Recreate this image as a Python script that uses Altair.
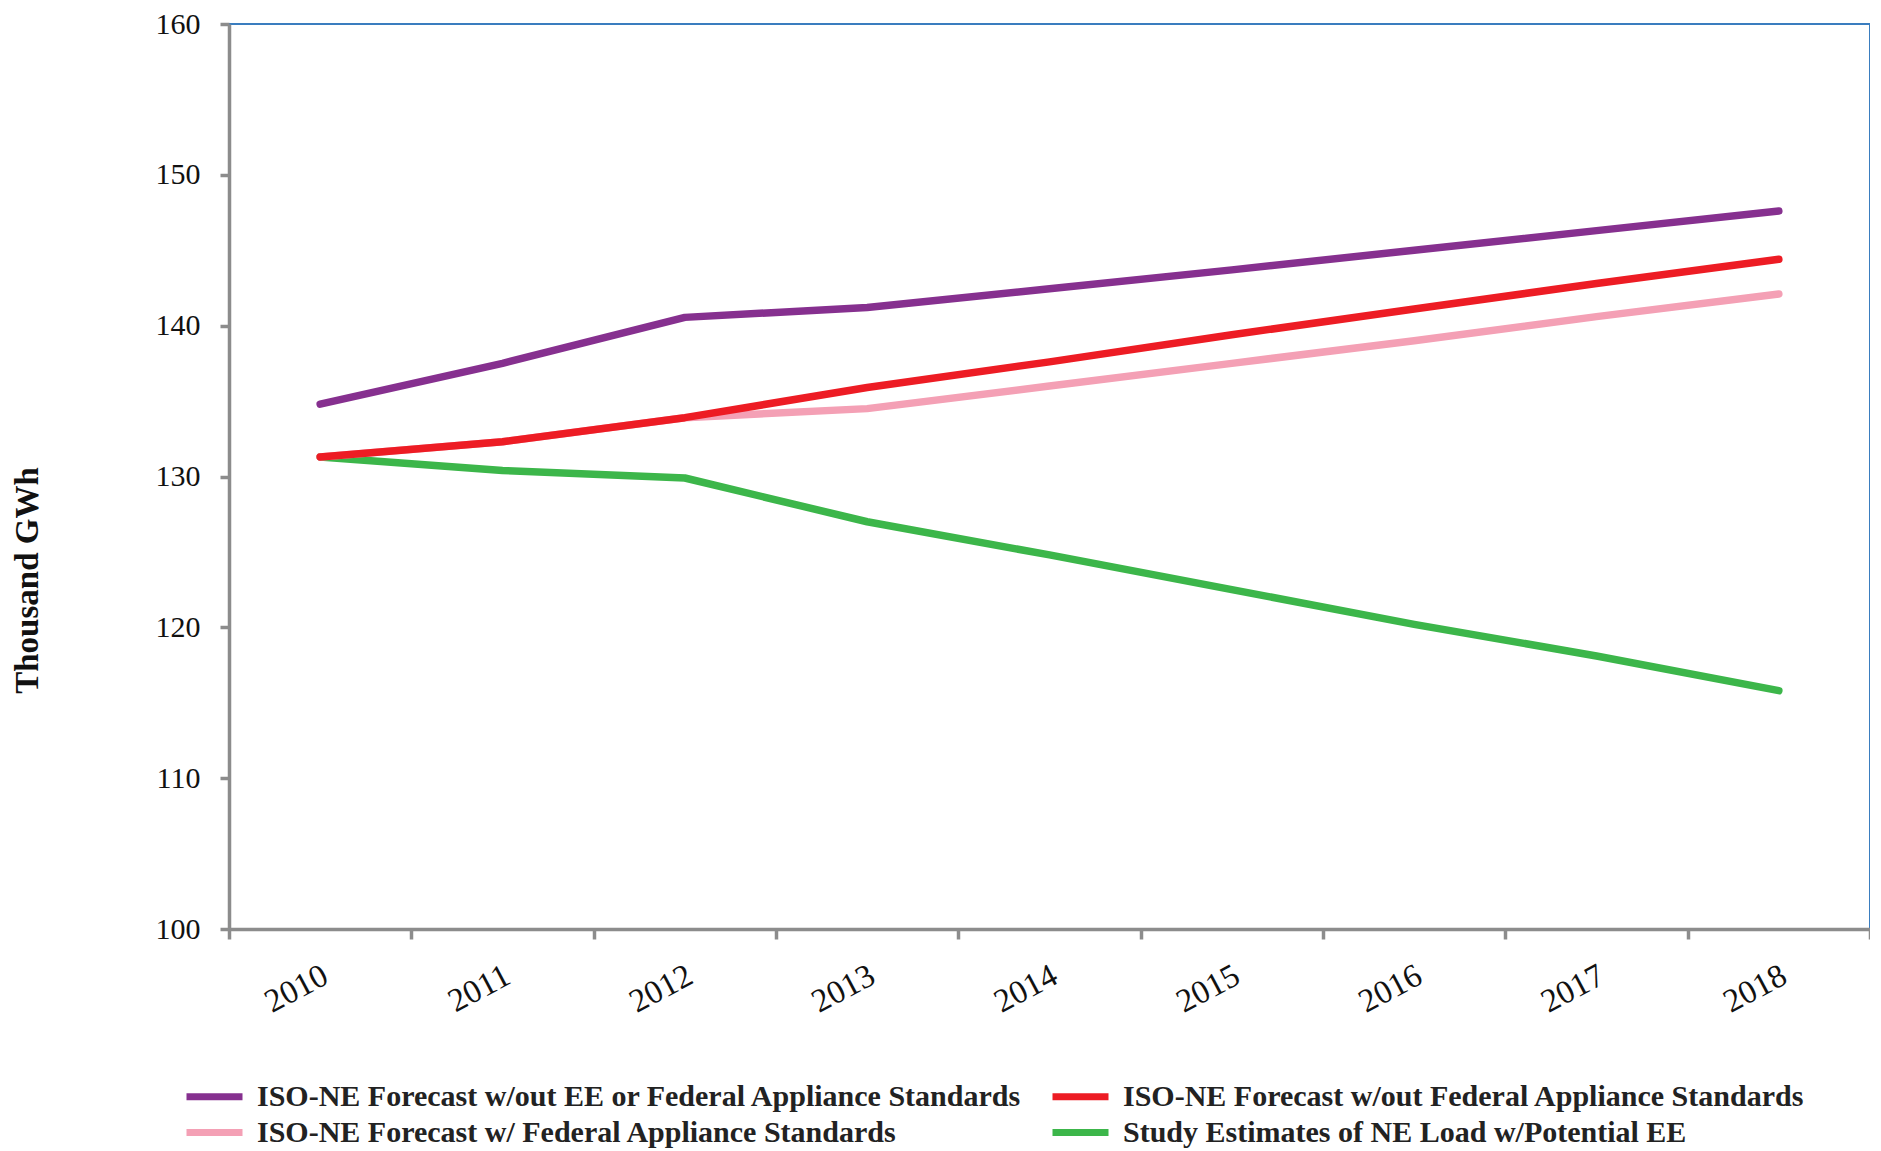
import altair as alt
import pandas as pd

years = ["2010", "2011", "2012", "2013", "2014", "2015", "2016", "2017", "2018"]
series_names = [
    "ISO-NE Forecast w/out EE or Federal Appliance Standards",
    "ISO-NE Forecast w/out Federal Appliance Standards",
    "ISO-NE Forecast w/ Federal Appliance Standards",
    "Study Estimates of NE Load w/Potential EE",
]
purple_vals = [134.8, 137.5, 140.55, 141.2, 142.45, 143.7, 145.0, 146.3, 147.6]
red_vals = [131.3, 132.3, 133.9, 135.9, 137.6, 139.4, 141.1, 142.8, 144.4]
pink_vals = [131.3, 132.3, 133.9, 134.5, 136.0, 137.5, 139.0, 140.6, 142.1]
green_vals = [131.3, 130.4, 129.9, 127.0, 124.8, 122.5, 120.2, 118.1, 115.8]
colors = ["#86308F", "#ED1C24", "#F4A0B5", "#3CB64A"]

rows = []
for name, vals in zip(series_names, [purple_vals, red_vals, pink_vals, green_vals]):
    for y, v in zip(years, vals):
        rows.append({"Year": y, "Value": v, "Series": name})
df = pd.DataFrame(rows)

color_enc = alt.Color(
    "Series:N",
    scale=alt.Scale(domain=series_names, range=colors),
    sort=series_names,
    legend=alt.Legend(
        title=None,
        orient="none",
        direction="horizontal",
        legendX=-32,
        legendY=1055,
        columns=2,
        columnPadding=15,
        rowPadding=3,
        symbolType="M-2,0H2",
        symbolSize=784,
        symbolStrokeWidth=7,
        labelFont="Liberation Serif",
        labelFontWeight="bold",
        labelFontSize=30,
        labelColor="#222222",
        labelLimit=1200,
        labelOffset=25,
    ),
)

x_enc = alt.X(
    "Year:O",
    sort=years,
    scale=alt.Scale(paddingInner=0, paddingOuter=0),
    axis=alt.Axis(
        title=None,
        tickBand="extent",
        labelAngle=-28,
        labelAlign="right",
        labelBaseline="middle",
        labelPadding=34,
        labelOffset=5,
        labelFontSize=33,
        tickSize=10,
    ),
)
y_enc = alt.Y(
    "Value:Q",
    scale=alt.Scale(domain=[100, 160], nice=False, zero=False),
    axis=alt.Axis(
        title="Thousand GWh",
        values=[100, 110, 120, 130, 140, 150, 160],
        tickSize=9,
        labelPadding=20,
        grid=False,
        titleX=-202,
        titleY=556,
        titleBaseline="middle",
        titleAngle=270,
        titleFont="Liberation Serif",
        titleFontWeight="bold",
        titleFontSize=33,
        titleColor="#111111",
    ),
)

draw_order = [series_names[3], series_names[2], series_names[1], series_names[0]]
layers = []
for name in draw_order:
    layers.append(
        alt.Chart(df)
        .transform_filter(alt.datum.Series == name)
        .mark_line(strokeWidth=7.5, strokeCap="round", strokeJoin="round")
        .encode(x=x_enc, y=y_enc, color=color_enc)
    )

chart = (
    alt.layer(*layers)
    .properties(
        width=1641,
        height=905,
        autosize=alt.AutoSizeParams(type="none"),
        padding={"left": 221, "top": 16, "right": 0, "bottom": 220},
    )
    .configure_view(stroke="#3A7DBF", strokeWidth=2)
    .configure_axis(
        domainColor="#8C8C8C",
        domainWidth=3.5,
        tickColor="#8C8C8C",
        tickWidth=3.5,
        labelFont="Liberation Serif",
        labelFontSize=30,
        labelColor="#111111",
    )
)

chart.save("out.html", embed_options={"renderer": "svg", "actions": False})
